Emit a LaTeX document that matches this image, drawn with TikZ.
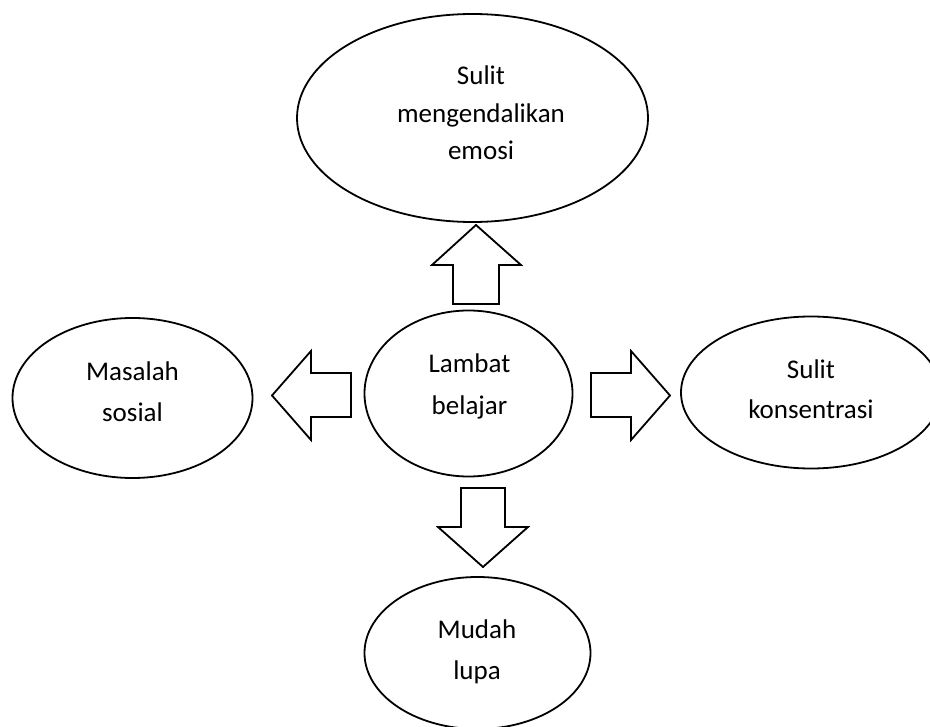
\documentclass[tikz,border=0pt]{standalone}
\usepackage{fontspec}
\setmainfont{Carlito}
\usetikzlibrary{shapes.geometric}
\tikzset{
  bubble/.style={draw=black, line width=1.8pt, ellipse, inner sep=0pt, fill=white},
  blockarrow/.style={draw=black, line width=1.8pt, line join=miter, fill=white},
  lbl/.style={anchor=base, inner sep=0pt, font=\fontsize{27}{30}\selectfont}
}
\begin{document}
\begin{tikzpicture}[x=1pt,y=-1pt]
\useasboundingbox (0,0) rectangle (930,727);
\clip (0,0) rectangle (930,727);
% ellipses
\node[bubble, minimum width=351pt, minimum height=208pt] (top) at (472.5,118) {};
\node[bubble, minimum width=240pt, minimum height=160pt] (left) at (132.5,398) {};
\node[bubble, minimum width=208pt, minimum height=166pt] (mid) at (468.5,393.5) {};
\node[bubble, minimum width=260pt, minimum height=152pt] (right) at (811,392.5) {};
\node[bubble, minimum width=226pt, minimum height=152pt] (bottom) at (477.5,653) {};
% texts
\node[lbl] (ta) at (481,84.5) {Sulit};
\node[lbl] (tb) at (481,122.5) {mengendalikan};
\node[lbl] (tc) at (481,160) {emosi};
\node[lbl] (la) at (132.5,381) {Masalah};
\node[lbl] (lb) at (132.5,421.5) {sosial};
\node[lbl] (ma) at (469.5,373) {Lambat};
\node[lbl] (mb) at (469.5,415) {belajar};
\node[lbl] (ra) at (811,378.3) {Sulit};
\node[lbl] (rb) at (811,418.3) {konsentrasi};
\node[lbl] (ba) at (477,638) {Mudah};
\node[lbl] (bb) at (477,679) {lupa};
% block arrows
\draw[blockarrow] (453,304) -- (453,265) -- (432,265) -- (476,225) -- (521,265) -- (499,265) -- (499,304) -- cycle;
\draw[blockarrow] (351,373) -- (311,373) -- (311,351) -- (272,395.5) -- (311,440) -- (311,417) -- (351,417) -- cycle;
\draw[blockarrow] (591,373) -- (631,373) -- (631,351) -- (670,395.5) -- (631,440) -- (631,417) -- (591,417) -- cycle;
\draw[blockarrow] (461,488) -- (461,527) -- (438,527) -- (483,567) -- (528,527) -- (505,527) -- (505,488) -- cycle;
\end{tikzpicture}
\end{document}
